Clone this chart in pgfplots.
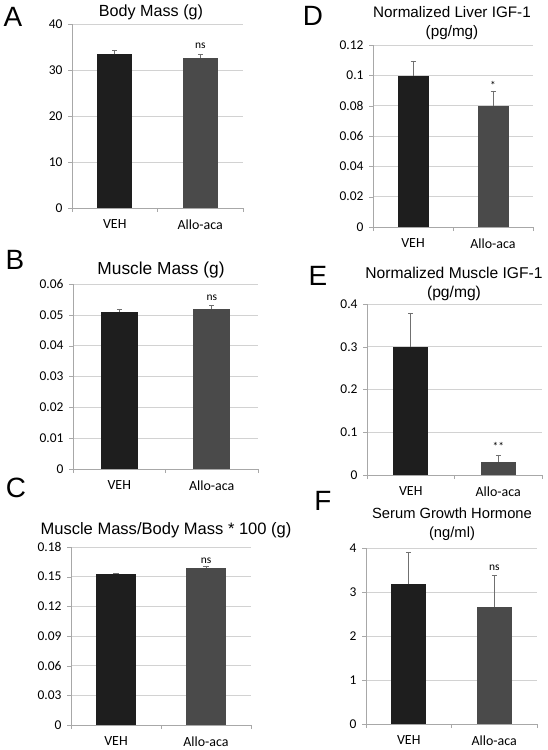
\documentclass[border=0pt]{standalone}
\usepackage{pgfplots}
\pgfplotsset{compat=1.18}
\usepackage{fontspec}
\setmainfont{Liberation Sans}
\newfontfamily\tickfont{Carlito}
\definecolor{vehc}{HTML}{1E1E1E}
\definecolor{allc}{HTML}{4A4A4A}
\definecolor{gridc}{HTML}{D2D2D2}
\definecolor{axc}{HTML}{A8A8A8}
\definecolor{errc}{HTML}{707070}
\pgfplotsset{
  panel/.style={
    scale only axis, ybar, xmin=-0.5, xmax=1.5,
    xtick={0,1}, xticklabels={VEH,Allo-aca},
    minor xtick={-0.5,0.5,1.5},
    xtick style={draw=none},
    minor x tick style={draw=axc},
    ytick style={draw=axc},
    tick align=outside, major tick length=4bp, minor tick length=4bp,
    axis lines*=left, axis line style={axc},
    ymajorgrids, xmajorgrids=false, major grid style={gridc, line width=0.6pt},
    ymin=0, scaled y ticks=false,
    /pgf/number format/fixed, /pgf/number format/precision=2,
    /pgf/number format/assume math mode=true,
    yticklabel style={font=\tickfont\fontsize{13.5}{15}\selectfont, text=black, xshift=-2bp},
    xticklabel style={font=\tickfont\fontsize{14}{16}\selectfont, text=black, yshift=-4bp},
    clip=false,
  },
  vehbar/.style={fill=vehc, draw=none, bar shift=0pt,
    error bars/.cd, y dir=plus, y explicit,
    error bar style={errc, line width=0.8pt},
    error mark options={rotate=90, mark size=2.5bp, errc, line width=0.8pt}},
  allbar/.style={fill=allc, draw=none, bar shift=0pt,
    error bars/.cd, y dir=plus, y explicit,
    error bar style={errc, line width=0.8pt},
    error mark options={rotate=90, mark size=2.5bp, errc, line width=0.8pt}},
}
\newcommand{\ttl}[1]{\fontsize{#1}{19.5}\selectfont}
\newcommand{\lett}{\fontsize{28}{30}\selectfont}
\newcommand{\sig}{\tickfont\fontsize{11.5}{12}\selectfont}
\begin{document}
\begin{tikzpicture}
\path[use as bounding box] (0,0) rectangle (548bp,-750bp);
% ---------- A
\begin{axis}[panel, at={(72bp,-24bp)}, anchor=north west, width=171bp, height=184bp,
  ymax=40, ytick={0,10,20,30,40}, bar width=35bp]
\addplot[vehbar] coordinates {(0,33.4) +- (0,0.85)};
\addplot[allbar] coordinates {(1,32.6) +- (0,0.85)};
\node[font=\sig] at (axis cs:1,35.3) {ns};
\end{axis}
% ---------- B
\begin{axis}[panel, at={(73bp,-284bp)}, anchor=north west, width=185bp, height=185bp,
  ymax=0.06, ytick={0,0.01,0.02,0.03,0.04,0.05,0.06}, bar width=37bp]
\addplot[vehbar] coordinates {(0,0.0509) +- (0,0.001)};
\addplot[allbar] coordinates {(1,0.0519) +- (0,0.001)};
\node[font=\sig] at (axis cs:1,0.0555) {ns};
\end{axis}
% ---------- C
\begin{axis}[panel, at={(71bp,-547bp)}, anchor=north west, width=180bp, height=178bp,
  ymax=0.18, ytick={0,0.03,0.06,0.09,0.12,0.15,0.18}, bar width=40bp]
\addplot[vehbar] coordinates {(0,0.153) +- (0,0.0005)};
\addplot[allbar] coordinates {(1,0.1584) +- (0,0.0015)};
\node[font=\sig] at (axis cs:1,0.1665) {ns};
\end{axis}
% ---------- D
\begin{axis}[panel, at={(373bp,-45bp)}, anchor=north west, width=160bp, height=182bp,
  ymax=0.12, ytick={0,0.02,0.04,0.06,0.08,0.1,0.12}, bar width=31bp]
\addplot[vehbar] coordinates {(0,0.0998) +- (0,0.0097)};
\addplot[allbar] coordinates {(1,0.0798) +- (0,0.0099)};
\node[font=\sig] at (axis cs:1,0.0935) {*};
\end{axis}
% ---------- E
\begin{axis}[panel, at={(367bp,-304bp)}, anchor=north west, width=175bp, height=171bp,
  ymax=0.4, ytick={0,0.1,0.2,0.3,0.4}, bar width=35bp]
\addplot[vehbar] coordinates {(0,0.3) +- (0,0.079)};
\addplot[allbar] coordinates {(1,0.031) +- (0,0.016)};
\node[font=\sig] at (axis cs:1,0.066) {**};
\end{axis}
% ---------- F
\begin{axis}[panel, at={(366bp,-548bp)}, anchor=north west, width=171bp, height=176bp,
  ymax=4, ytick={0,1,2,3,4}, bar width=35bp]
\addplot[vehbar] coordinates {(0,3.18) +- (0,0.73)};
\addplot[allbar] coordinates {(1,2.67) +- (0,0.71)};
\node[font=\sig] at (axis cs:1,3.55) {ns};
\end{axis}
% ---------- titles
\node[font=\ttl{16.2}] at (151bp,-12bp) {Body Mass (g)};
\node[font=\ttl{17.4}] at (161bp,-270bp) {Muscle Mass (g)};
\node[font=\ttl{16.6}] at (166bp,-530bp) {Muscle Mass/Body Mass * 100 (g)};
\node[font=\ttl{15.3}, align=center] at (452bp,-23bp) {Normalized Liver IGF-1\\(pg/mg)};
\node[font=\ttl{15.7}, align=center] at (454bp,-284bp) {Normalized Muscle IGF-1\\(pg/mg)};
\node[font=\ttl{14.8}, align=center] at (452bp,-524bp) {Serum Growth Hormone\\(ng/ml)};
% ---------- panel letters
\node[font=\lett] at (13bp,-17bp) {A};
\node[font=\lett] at (15bp,-260bp) {B};
\node[font=\lett] at (16bp,-488bp) {C};
\node[font=\lett] at (313bp,-16bp) {D};
\node[font=\lett] at (318bp,-276bp) {E};
\node[font=\lett] at (323bp,-501bp) {F};
\end{tikzpicture}
\end{document}
